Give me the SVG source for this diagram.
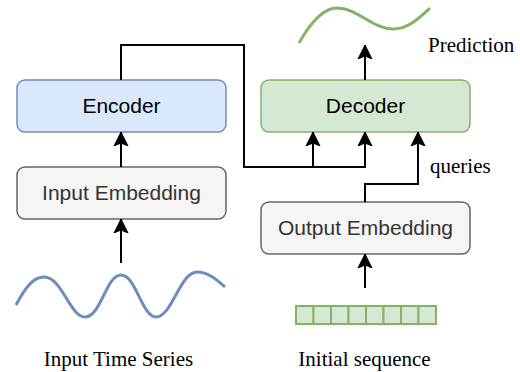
<svg xmlns="http://www.w3.org/2000/svg" width="520" height="372" viewBox="0 0 520 372">
  <style>
    .box { stroke-width: 1.5; }
    .enc { fill: #dae8fc; stroke: #6c8ebf; }
    .dec { fill: #d5e8d4; stroke: #82b366; }
    .emb { fill: #f5f5f5; stroke: #666666; }
    .lbl { font-family: "Liberation Sans", Arial, sans-serif; font-size: 21px; text-anchor: middle; }
    .ser { font-family: "Liberation Serif", "Times New Roman", serif; font-size: 21px; fill: #000; }
    .conn { fill: none; stroke: #000; stroke-width: 2; }
    .cell { fill: #d5e8d4; stroke: #82b366; stroke-width: 2; }
  </style>
  <defs>
    <marker id="arr" markerUnits="userSpaceOnUse" viewBox="0 0 16 16" refX="14" refY="8" markerWidth="16" markerHeight="16" orient="auto">
      <path d="M14,8 L0,1 L3,8 L0,15 Z" fill="#000" stroke="#000" stroke-width="1"/>
    </marker>
  </defs>
  <rect width="520" height="372" fill="#fff"/>

  <g id="encoder">
    <rect class="box enc" x="17" y="80" width="209" height="52" rx="8"/>
    <text class="lbl" x="121.5" y="112.5" fill="#000">Encoder</text>
  </g>
  <g id="input-embedding">
    <rect class="box emb" x="17" y="167" width="209" height="52" rx="8"/>
    <text class="lbl" x="121.5" y="199.5" fill="#333">Input Embedding</text>
  </g>
  <g id="decoder">
    <rect class="box dec" x="261" y="80" width="209" height="52" rx="8"/>
    <text class="lbl" x="365.5" y="112.5" fill="#000">Decoder</text>
  </g>
  <g id="output-embedding">
    <rect class="box emb" x="261" y="202" width="209" height="52" rx="8"/>
    <text class="lbl" x="365.5" y="234.5" fill="#333">Output Embedding</text>
  </g>
  <g id="input-series">
    <path d="M16,305 C26,286 34,277 44,277 C62,277 70,317 85,317 C101,317 106,275 121,275 C136,275 142,317 156,317 C172,317 180,272 197,272 C208,272 216,279 225,287" fill="none" stroke="#6c8ebf" stroke-width="3"/>
    <text class="ser" x="118.5" y="366" text-anchor="middle">Input Time Series</text>
  </g>
  <g id="initial-sequence">
    <rect class="cell" x="296" y="306" width="17.5" height="18"/>
    <rect class="cell" x="313.5" y="306" width="17.5" height="18"/>
    <rect class="cell" x="331" y="306" width="17.5" height="18"/>
    <rect class="cell" x="348.5" y="306" width="17.5" height="18"/>
    <rect class="cell" x="366" y="306" width="17.5" height="18"/>
    <rect class="cell" x="383.5" y="306" width="17.5" height="18"/>
    <rect class="cell" x="401" y="306" width="17.5" height="18"/>
    <rect class="cell" x="418.5" y="306" width="17.5" height="18"/>
    <text class="ser" x="364.5" y="366" text-anchor="middle">Initial sequence</text>
  </g>
  <g id="prediction">
    <path d="M299,43 C312,20 325,8 337,8 C358,8 372,29 393,29 C408,29 418,19 430,8" fill="none" stroke="#82b366" stroke-width="3"/>
    <text class="ser" x="428" y="52">Prediction</text>
  </g>

  <g id="connectors">
    <path class="conn" d="M121,263 L121,219" marker-end="url(#arr)"/>
    <path class="conn" d="M121,167 L121,132" marker-end="url(#arr)"/>
    <path class="conn" d="M121,80 L121,45 L244,45 L244,167 L313,167 L313,132" marker-end="url(#arr)"/>
    <path class="conn" d="M313,167 L365,167 L365,132" marker-end="url(#arr)"/>
    <path class="conn" d="M365,80 L365,45" marker-end="url(#arr)"/>
    <path class="conn" d="M365,202 L365,184 L418,184 L418,132" marker-end="url(#arr)"/>
    <path class="conn" d="M365,288 L365,254" marker-end="url(#arr)"/>
    <text class="ser" x="430" y="173">queries</text>
  </g>
</svg>
